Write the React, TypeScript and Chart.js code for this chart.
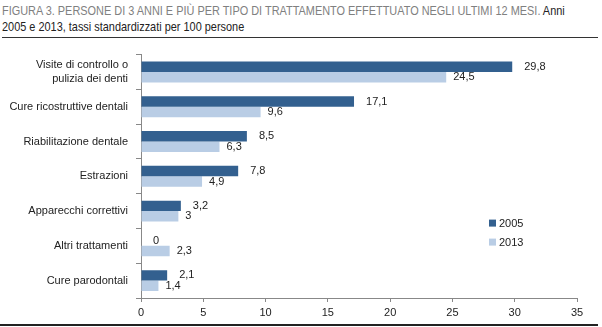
import React, { useEffect, useRef } from "react";
import { Chart, registerables } from "chart.js";

Chart.register(...registerables);

const categories: (string | string[])[] = [
  ["Visite di controllo o", "pulizia dei denti"],
  "Cure ricostruttive dentali",
  "Riabilitazione dentale",
  "Estrazioni",
  "Apparecchi correttivi",
  "Altri trattamenti",
  "Cure parodontali",
];
const series2005 = [29.8, 17.1, 8.5, 7.8, 3.2, 0, 2.1];
const series2013 = [24.5, 9.6, 6.3, 4.9, 3, 2.3, 1.4];
const seriesNames = ["2005", "2013"];
const xTicks = [0, 5, 10, 15, 20, 25, 30, 35];

const DARK = "#33608f";
const LIGHT = "#b9cde5";
const FONT = "'Liberation Sans', Arial, sans-serif";

const fmt = (v: number) => String(v).replace(".", ",");

const labelPlugin = {
  id: "valueLabels",
  afterDatasetsDraw(chart: any) {
    const ctx = chart.ctx;
    ctx.save();
    ctx.font = `11px ${FONT}`;
    ctx.fillStyle = "#222";
    ctx.textBaseline = "middle";
    ctx.textAlign = "left";
    chart.data.datasets.forEach((ds: any, i: number) => {
      const meta = chart.getDatasetMeta(i);
      meta.data.forEach((bar: any, j: number) => {
        const off = i === 0 ? 12 : 7;
        ctx.fillText(fmt(ds.data[j]), bar.x + off, bar.y);
      });
    });
    // legend
    const a = chart.chartArea;
    const lx = a.right - 88;
    const ly = a.top + 168;
    chart.data.datasets.forEach((ds: any, i: number) => {
      const y = ly + i * 19;
      ctx.fillStyle = ds.backgroundColor;
      ctx.fillRect(lx, y - 3, 7, 7);
      ctx.fillStyle = "#222";
      ctx.fillText(ds.label, lx + 10, y + 1);
    });
    ctx.restore();
  },
};

export default function App() {
  const ref = useRef<HTMLCanvasElement>(null);
  useEffect(() => {
    document.body.style.margin = "0";
    const chart = new Chart(ref.current!, {
      type: "bar",
      data: {
        labels: categories,
        datasets: [
          { label: seriesNames[0], data: series2005, backgroundColor: DARK, categoryPercentage: 0.6, barPercentage: 1 },
          { label: seriesNames[1], data: series2013, backgroundColor: LIGHT, categoryPercentage: 0.6, barPercentage: 1 },
        ],
      },
      options: {
        indexAxis: "y",
        animation: false,
        responsive: false,
        maintainAspectRatio: false,
        layout: { padding: { top: 8, right: 25, left: 0, bottom: 0 } },
        plugins: { legend: { display: false }, tooltip: { enabled: false } },
        scales: {
          x: {
            min: 0,
            max: 35,
            afterBuildTicks: (s: any) => {
              s.ticks = xTicks.map((v) => ({ value: v }));
            },
            afterFit: (s: any) => {
              s.height = 27;
            },
            grid: { drawOnChartArea: false, drawTicks: true, tickLength: 4, color: "#888" },
            border: { color: "#888" },
            ticks: { color: "#222", font: { family: FONT, size: 11 }, padding: 4, maxRotation: 0 },
          },
          y: {
            afterFit: (s: any) => {
              s.width = 141;
            },
            grid: { drawOnChartArea: false, drawTicks: true, tickLength: 5, color: "#888", offset: true },
            border: { color: "#888" },
            ticks: { color: "#222", font: { family: FONT, size: 11 }, padding: 8 },
          },
        },
      },
      plugins: [labelPlugin],
    } as any);
    return () => chart.destroy();
  }, []);

  const titleLine: React.CSSProperties = {
    display: "block",
    whiteSpace: "nowrap",
    transform: "scaleX(0.84)",
    transformOrigin: "0 0",
  };

  return (
    <div style={{ position: "fixed", left: 0, top: 0, width: 602, height: 327, background: "#fff", overflow: "hidden" }}>
      <div
        style={{
          position: "absolute",
          left: 2,
          top: 3,
          width: 596,
          fontFamily: "'Liberation Sans', Arial, sans-serif",
          fontSize: 13,
          lineHeight: "16px",
          color: "#222",
          borderBottom: "1.5px solid #333",
          paddingBottom: 2,
        }}
      >
        <span style={titleLine}>
          <span style={{ color: "#808080" }}>
            FIGURA 3. PERSONE DI 3 ANNI E PIÙ PER TIPO DI TRATTAMENTO EFFETTUATO NEGLI ULTIMI 12 MESI.
          </span>{" "}
          Anni
        </span>
        <span style={titleLine}>2005 e 2013, tassi standardizzati per 100 persone</span>
      </div>
      <canvas ref={ref} width={602} height={285} style={{ position: "absolute", left: 0, top: 40, display: "block" }} />
      <div style={{ position: "absolute", left: 0, top: 324, width: 598, height: 2, background: "#222" }} />
    </div>
  );
}
